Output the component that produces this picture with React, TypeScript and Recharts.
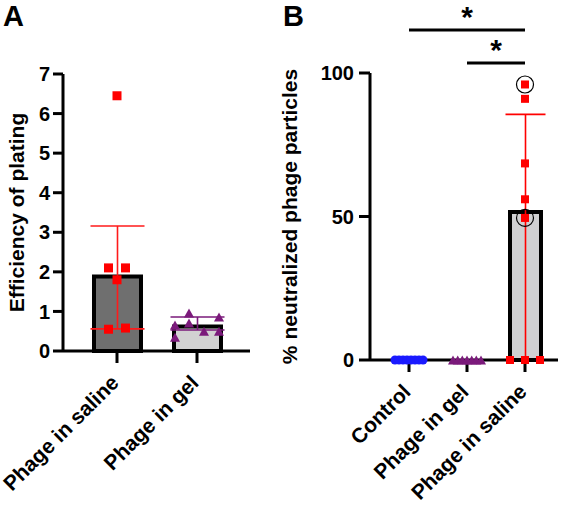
import {
  ComposedChart,
  Bar,
  Cell,
  ErrorBar,
  Scatter,
  XAxis,
  YAxis,
  ReferenceLine,
} from 'recharts';

const FONT = '"Liberation Sans", Arial, Helvetica, sans-serif';

// Panel A: efficiency of plating
const eopGroups = ['Phage in saline', 'Phage in gel'];
const eopMean = [1.88, 0.62];
const eopErr = [
  [1.32, 1.28],
  [0.09, 0.24],
];
const eopSaline = [6.45, 2.1, 2.1, 1.8, 0.55, 0.58];
const eopGel = [0.66, 0.35, 0.96, 0.71, 0.5, 0.86, 0.5];
const eopTicks = [0, 1, 2, 3, 4, 5, 6, 7];

// Panel B: % neutralized phage particles
const neutGroups = ['Control', 'Phage in gel', 'Phage in saline'];
const neutMean = [0, 0, 51.6];
const neutErr = [null, null, [51.6, 34]];
const neutControl = [0, 0, 0, 0, 0, 0, 0, 0];
const neutGel = [0, 0, 0, 0, 0, 0, 0];
const neutSaline = [96, 91, 68.5, 56, 49.5, 0, 0, 0];
const neutCircled = [true, false, false, false, true, false, false, false];
const neutTicks = [0, 50, 100];
const sigPairs = [
  ['Control', 'Phage in saline'],
  ['Phage in gel', 'Phage in saline'],
];
const sigLevels = [115, 103.5];

// look
const eopFills = ['#6f6f6f', '#d2d2d2'];
const eopErrColors = ['#ff1a1a', '#7a1a7a'];
const neutFills = ['#d0d0d2', '#d0d0d2', '#d0d0d2'];
const RED = '#ff0000';
const PURPLE = '#7b1a7b';
const BLUE = '#1a1aff';

// horizontal jitter of the dots, in px
const jitSalineA = [0, -8.5, 8.5, 0, -8.5, 8.5];
const jitGelA = [-22, -22, -8, -8, 7, 22, 22];
const jitControlB = [-14, -10, -6, -2, 2, 6, 10, 14];
const jitGelB = [-14, -9.3, -4.7, 0, 4.7, 9.3, 14];
const jitSalineB = [0, 0, 0, 0, 0, -15, 0, 15];

const tickStyle = { fill: '#000', fontSize: 20, fontWeight: 700, fontFamily: FONT };
const axisStroke = { stroke: '#000', strokeWidth: 3 };

function SlantTick({ x, y, payload }: any) {
  const ax = x + 3;
  const ay = y + 21;
  return (
    <text
      x={ax}
      y={ay}
      textAnchor="end"
      transform={`rotate(-45 ${ax} ${ay})`}
      fill="#000"
      fontSize={21}
      fontWeight={700}
      fontFamily={FONT}
    >
      {payload.value}
    </text>
  );
}

const square = (size: number, jit: number[], circled?: boolean[]) => (p: any) => {
  const cx = p.cx + jit[p.payload.k];
  return (
    <g>
      <rect x={cx - size / 2} y={p.cy - size / 2} width={size} height={size} fill={RED} />
      {circled && circled[p.payload.k] ? (
        <circle cx={cx} cy={p.cy} r={8.5} fill="none" stroke="#000" strokeWidth={1.2} />
      ) : null}
    </g>
  );
};

const triangle = (w: number, h: number, jit: number[]) => (p: any) => {
  const cx = p.cx + jit[p.payload.k];
  const cy = p.cy;
  return (
    <path
      d={`M${cx},${cy - h / 2}L${cx + w / 2},${cy + h / 2}L${cx - w / 2},${cy + h / 2}Z`}
      fill={PURPLE}
    />
  );
};

const dot = (r: number, jit: number[]) => (p: any) => (
  <circle cx={p.cx + jit[p.payload.k]} cy={p.cy} r={r} fill={BLUE} />
);

const pts = (vals: number[], group: number) => vals.map((v, k) => ({ x: group, y: v, k }));

function PanelA() {
  const data = eopGroups.map((name, i) => ({ name, mean: eopMean[i], err: eopErr[i] }));
  return (
    <ComposedChart width={260} height={505} data={data} margin={{ top: 74, right: 10, left: 0, bottom: 0 }}>
      <XAxis
        dataKey="name"
        type="category"
        height={154}
        padding={{ left: 14, right: 13 }}
        axisLine={axisStroke}
        tickLine={axisStroke}
        tickSize={12}
        tickMargin={0}
        tick={<SlantTick />}
        interval={0}
      />
      <XAxis xAxisId="pts" type="number" dataKey="x" domain={[-0.5, 1.5]} padding={{ left: 14, right: 13 }} hide />
      <YAxis
        domain={[0, 7]}
        ticks={eopTicks}
        width={63}
        axisLine={axisStroke}
        tickLine={axisStroke}
        tickSize={10}
        tickMargin={3}
        tick={tickStyle}
        label={{
          value: 'Efficiency of plating',
          angle: -90,
          position: 'insideLeft',
          offset: 17,
          style: { textAnchor: 'middle', fontSize: 21, fontWeight: 700, fontFamily: FONT, fill: '#000' },
        }}
      />
      <Bar dataKey="mean" barSize={47} stroke="#000" strokeWidth={4} isAnimationActive={false}>
        {data.map((d, i) => (
          <Cell key={d.name} fill={eopFills[i]} />
        ))}
        {eopGroups.map((g, i) => (
          <ErrorBar
            key={g}
            dataKey={(d: any) => (d.name === g ? d.err : null)}
            width={27}
            stroke={eopErrColors[i]}
            strokeWidth={1.6}
            direction="y"
          />
        ))}
      </Bar>
      <Scatter xAxisId="pts" data={pts(eopSaline, 0)} dataKey="y" shape={square(9, jitSalineA)} isAnimationActive={false} />
      <Scatter xAxisId="pts" data={pts(eopGel, 1)} dataKey="y" shape={triangle(10, 9, jitGelA)} isAnimationActive={false} />
    </ComposedChart>
  );
}

function PanelB() {
  const data = neutGroups.map((name, i) => ({ name, mean: neutMean[i], err: neutErr[i] }));
  return (
    <ComposedChart width={296} height={505} data={data} margin={{ top: 73, right: 8, left: 0, bottom: 0 }}>
      <XAxis
        dataKey="name"
        type="category"
        height={145}
        padding={{ left: 10, right: 4 }}
        axisLine={axisStroke}
        tickLine={axisStroke}
        tickSize={12}
        tickMargin={0}
        tick={<SlantTick />}
        interval={0}
      />
      <XAxis xAxisId="pts" type="number" dataKey="x" domain={[-0.5, 2.5]} padding={{ left: 10, right: 4 }} hide />
      <YAxis
        domain={[0, 100]}
        ticks={neutTicks}
        width={100}
        axisLine={axisStroke}
        tickLine={axisStroke}
        tickSize={11}
        tickMargin={5}
        tick={tickStyle}
        label={{
          value: '% neutralized phage particles',
          angle: -90,
          position: 'insideLeft',
          offset: 20,
          style: { textAnchor: 'middle', fontSize: 21, fontWeight: 700, fontFamily: FONT, fill: '#000' },
        }}
      />
      <Bar dataKey="mean" barSize={31} stroke="#000" strokeWidth={4} isAnimationActive={false}>
        {data.map((d, i) => (
          <Cell key={d.name} fill={neutFills[i]} />
        ))}
        <ErrorBar dataKey="err" width={20} stroke={RED} strokeWidth={1.6} direction="y" />
      </Bar>
      <Scatter xAxisId="pts" data={pts(neutControl, 0)} dataKey="y" shape={dot(4.5, jitControlB)} isAnimationActive={false} />
      <Scatter xAxisId="pts" data={pts(neutGel, 1)} dataKey="y" shape={triangle(10, 9, jitGelB)} isAnimationActive={false} />
      <Scatter
        xAxisId="pts"
        data={pts(neutSaline, 2)}
        dataKey="y"
        shape={square(8, jitSalineB, neutCircled)}
        isAnimationActive={false}
      />
      {sigPairs.map(([a, b], i) => (
        <ReferenceLine
          key={a + b}
          segment={[
            { x: a, y: sigLevels[i] },
            { x: b, y: sigLevels[i] },
          ]}
          stroke="#000"
          strokeWidth={3}
          ifOverflow="visible"
          label={{ value: '*', position: 'center', dy: -14, fontSize: 30, fontWeight: 700, fontFamily: FONT, fill: '#000' }}
        />
      ))}
    </ComposedChart>
  );
}

const panelLetter = { position: 'absolute' as const, top: 1.5, fontSize: 29, lineHeight: 1, fontWeight: 700, fontFamily: FONT };

export default function App() {
  return (
    <div style={{ position: 'absolute', left: 0, top: 0, width: 566, height: 505, background: '#fff' }}>
      <div style={{ position: 'absolute', left: 0, top: 0 }}>
        <PanelA />
      </div>
      <div style={{ position: 'absolute', left: 270, top: 0 }}>
        <PanelB />
      </div>
      <div style={{ ...panelLetter, left: 3 }}>A</div>
      <div style={{ ...panelLetter, left: 283 }}>B</div>
    </div>
  );
}
